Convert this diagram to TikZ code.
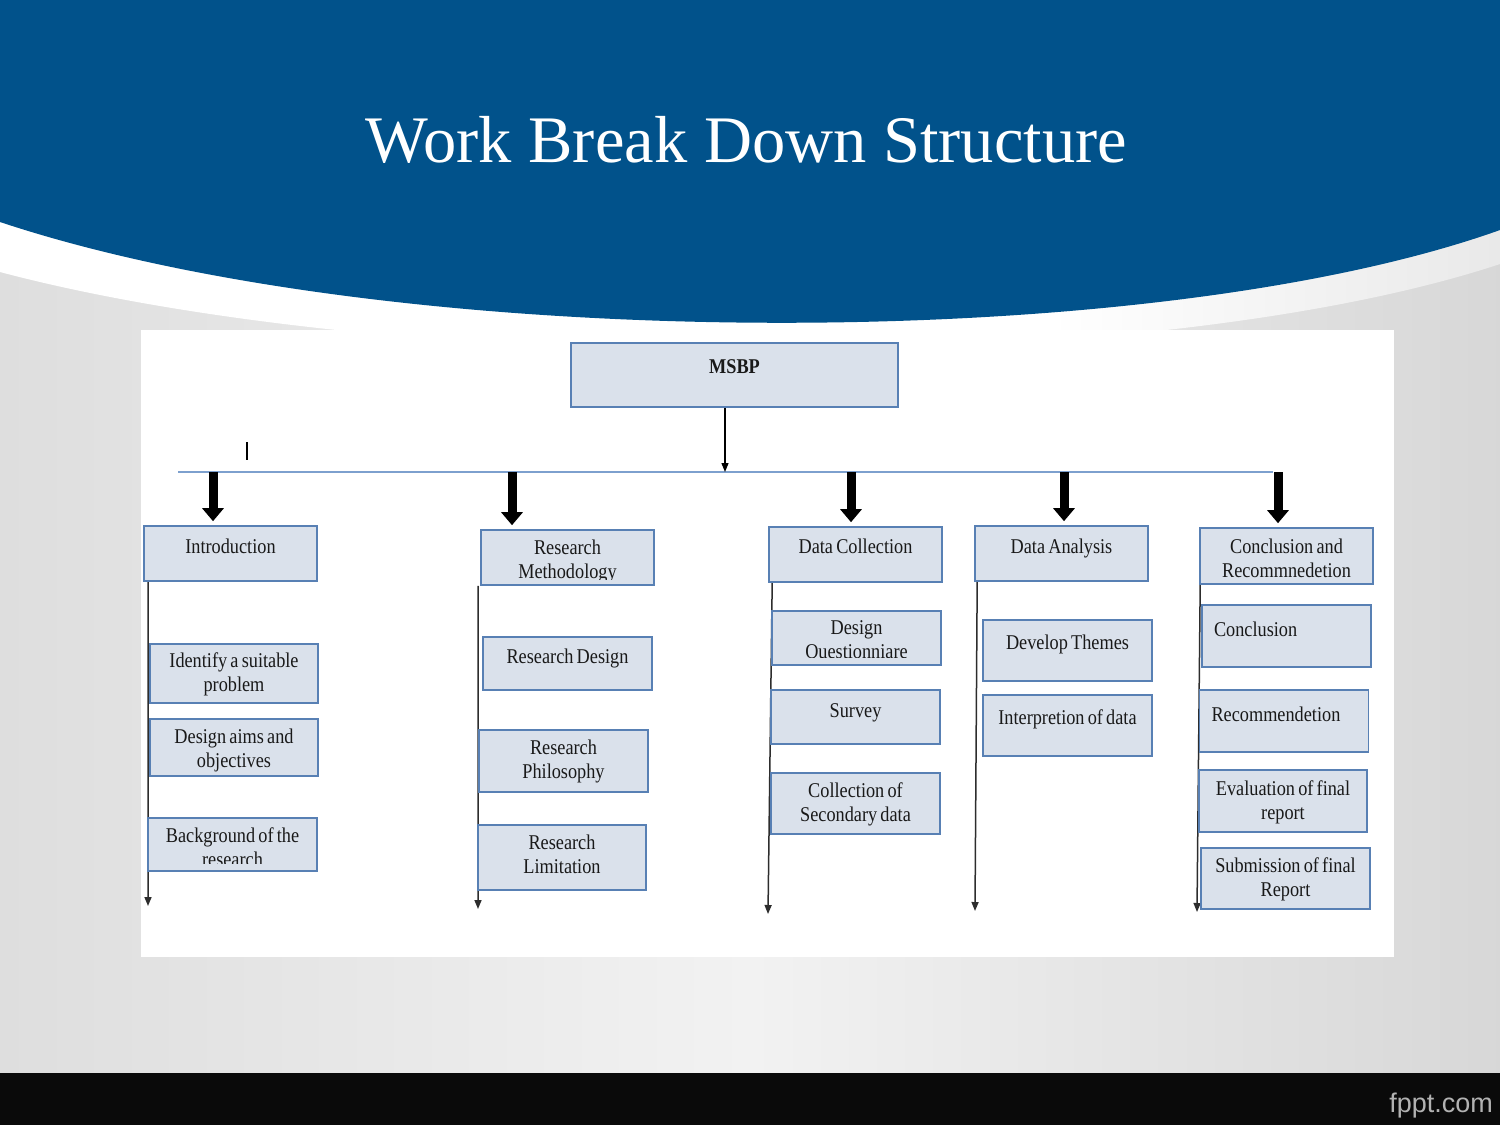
\documentclass[tikz,border=0pt]{standalone}
\usepackage{fontspec}
\setmainfont{Liberation Serif}
\newfontfamily\boxfont[FakeStretch=0.87]{Liberation Serif}
\newfontfamily\wmfont{Liberation Sans}
\usetikzlibrary{arrows.meta,calc}
\definecolor{hdrblue}{RGB}{1,82,139}
\definecolor{boxfill}{RGB}{218,225,235}
\definecolor{boxline}{RGB}{88,128,180}
\definecolor{hlinecol}{RGB}{125,160,206}
\definecolor{colline}{RGB}{45,45,45}
\definecolor{txtcol}{RGB}{25,25,25}
\definecolor{bgdark}{RGB}{222,222,222}
\definecolor{bglight}{RGB}{242,242,242}
\newcommand{\wbsfont}{\boxfont\fontsize{21}{24}\selectfont}
\newcommand{\tline}[1]{\mbox{\spaceskip=3.2pt\relax #1}}
\pgfdeclarelayer{back}
\pgfdeclarelayer{bg}
\pgfsetlayers{back,bg,main}
\pgfdeclarehorizontalshading{swoosh}{100bp}{color(0bp)=(white); color(60bp)=(white); color(86bp)=(gray!30); color(100bp)=(gray!85)}
\begin{document}
\begin{tikzpicture}[x=1pt,y=-1pt,
  wbs/.style={draw=boxline, fill=boxfill, line width=1.6pt, inner sep=0pt, text width=160pt,
    align=center, anchor=base, text=txtcol, font=\wbsfont},
  wbsleft/.style={wbs, text width=145pt, align=left},
  wbstext/.style={inner sep=0pt, text width=160pt, align=center, anchor=base, text=txtcol,
    font=\wbsfont},
  bigarrow/.style={line width=9pt, black, -{Triangle[width=21pt,length=13pt]}, shorten >=4pt},
  thinarrow/.style={line width=1.3pt, black, -{Triangle[width=7pt,length=9pt]}},
  colarrow/.style={line width=1.5pt, colline, -{Triangle[width=7pt,length=9pt]}},
]
\useasboundingbox (0,0) rectangle (1500,1125);

% ---------- slide background ----------
\begin{pgfonlayer}{back}
\shade[left color=bgdark, right color=bgdark!97!black, middle color=bglight] (0,0) rectangle (1500,1125);
\shade[shading=swoosh] (0,210) -- (0,272) .. controls (400,378) and (1150,380) .. (1500,264) -- (1500,210) -- cycle;
\fill[hdrblue] (0,0) -- (1500,0) -- (1500,230) .. controls (1150,355) and (400,355) .. (0,222) -- cycle;
\fill[black!96] (0,1073) rectangle (1500,1125);
\fill[white] (141,330) rectangle (1394,957);
\end{pgfonlayer}

\node[font=\fontsize{66.5}{70}\selectfont, text=white, anchor=base, inner sep=0pt] (title) at (746.5,162) {Work Break Down Structure};
\node[font=\wmfont\fontsize{27}{30}\selectfont, text=gray!60, anchor=base east, inner sep=0pt] (fppt) at (1493,1112) {fppt.com};

% ---------- top ----------
\node[wbs, minimum width=327pt, text height=30pt, text depth=34pt, font=\wbsfont\bfseries] (msbp) at (734.5,373) {MSBP};

\coordinate (hl) at (178,472);
\coordinate (hr) at (1273,472);
\coordinate (h0) at (725,472);
\draw[hlinecol, line width=2pt] (hl) -- (hr);
\draw[thinarrow] (msbp.south -| h0) -- (h0);
\draw[line width=1.5pt, black] (247,442) -- (247,460);

% ---------- level 1 ----------
\node[wbs, minimum width=173pt, text height=27pt, text depth=28pt] (intro) at (230.5,553) {Introduction};
\node[wbs, minimum width=173pt, text height=24pt, text depth=31pt] (rm) at (567.5,554) {};
\node[wbs, minimum width=173pt, text height=26pt, text depth=29pt] (dc) at (855.5,553) {\tline{Data Collection}};
\node[wbs, minimum width=173pt, text height=27pt, text depth=28pt] (da) at (1061.5,553) {\tline{Data Analysis}};
\node[wbs, minimum width=173pt, text height=25pt, text depth=31pt] (cr) at (1286.5,553) {\tline{Conclusion and}\\Recommnedetion};

\begin{scope}
\clip ($(rm.north west)+(2,2)$) rectangle ($(rm.south east)+(-2,-6)$);
\node[wbstext] (rmt) at (567.5,554) {Research\\Methodology};
\end{scope}

\coordinate (h1) at (213,472);
\coordinate (h2) at (512,472);
\coordinate (h3) at (851,472);
\coordinate (h4) at (1064,472);
\coordinate (h5) at (1278,472);
\draw[bigarrow] (h1) -- (h1 |- intro.north);
\draw[bigarrow] (h2) -- (h2 |- rm.north);
\draw[bigarrow] (h3) -- (h3 |- dc.north);
\draw[bigarrow] (h4) -- (h4 |- da.north);
\draw[bigarrow] (h5) -- (h5 |- cr.north);

% ---------- Introduction column ----------
\node[wbs, minimum width=168pt, text height=23pt, text depth=36pt] (isp) at (234,667) {\tline{Identify a suitable}\\problem};
\node[wbs, minimum width=168pt, text height=24pt, text depth=33pt] (dao) at (234,743) {\tline{Design aims and}\\objectives};
\node[wbs, minimum width=169pt, text height=24pt, text depth=29pt] (bgr) at (232.5,842) {};
\begin{scope}
\clip ($(bgr.north west)+(2,2)$) rectangle ($(bgr.south east)+(-2,-8)$);
\node[wbstext] (bgrt) at (232.5,842) {\tline{Background of the}\\research};
\end{scope}

% ---------- Research Methodology column ----------
\node[wbs, minimum width=169pt, text height=26pt, text depth=27pt] (rd) at (567.5,663) {\tline{Research Design}};
\node[wbs, minimum width=169pt, text height=24pt, text depth=38pt] (rp) at (563.5,754) {Research\\Philosophy};
\node[wbs, minimum width=168pt, text height=24pt, text depth=41pt] (rl) at (562,849) {Research\\Limitation};

% ---------- Data Collection column ----------
\node[wbs, minimum width=169pt, text height=23pt, text depth=31pt] (dq) at (856.5,634) {};
\begin{scope}
\clip ($(dq.north west)+(2,2)$) rectangle ($(dq.south east)+(-2,-8)$);
\node[wbstext] (dqt) at (856.5,634) {Design\\Questionniare};
\end{scope}
\node[wbs, minimum width=169pt, text height=27pt, text depth=27pt] (sv) at (855.5,717) {Survey};
\node[wbs, minimum width=169pt, text height=24pt, text depth=37pt] (cs) at (855.5,797) {\tline{Collection of}\\\tline{Secondary data}};

% ---------- Data Analysis column ----------
\node[wbs, minimum width=169pt, text height=29pt, text depth=32pt] (dt) at (1067.5,649) {\tline{Develop Themes}};
\node[wbs, minimum width=169pt, text height=29pt, text depth=32pt] (itp) at (1067.5,724) {\tline{Interpretion of data}};

% ---------- Conclusion column ----------
\node[wbsleft, minimum width=169pt, text height=31pt, text depth=31pt] (cn) at (1286.5,636) {Conclusion};
\node[wbsleft, minimum width=169pt, text height=31pt, text depth=31pt] (rc) at (1284,721) {Recommendetion};
\node[wbs, minimum width=168pt, text height=25pt, text depth=37pt] (ev) at (1283,795) {\tline{Evaluation of final}\\report};
\node[wbs, minimum width=169pt, text height=24pt, text depth=37pt] (sub) at (1285.5,872) {\tline{Submission of final}\\Report};

% ---------- column connectors ----------
\coordinate (e1) at (148,906);
\coordinate (e2) at (478,909);
\coordinate (e3) at (768,914);
\coordinate (e4) at (975,911);
\coordinate (e5) at (1197,912);
\begin{pgfonlayer}{bg}
\draw[colarrow] ($(intro.south west)+(5,0)$) -- (e1);
\draw[colarrow] ($(rm.south west)+(-2,0)$) -- (e2);
\draw[colarrow] ($(dc.south west)+(4,0)$) -- (e3);
\draw[colarrow] ($(da.south west)+(3,0)$) -- (e4);
\draw[colarrow] ($(cr.south west)+(1,0)$) -- (e5);
\end{pgfonlayer}
\end{tikzpicture}
\end{document}
